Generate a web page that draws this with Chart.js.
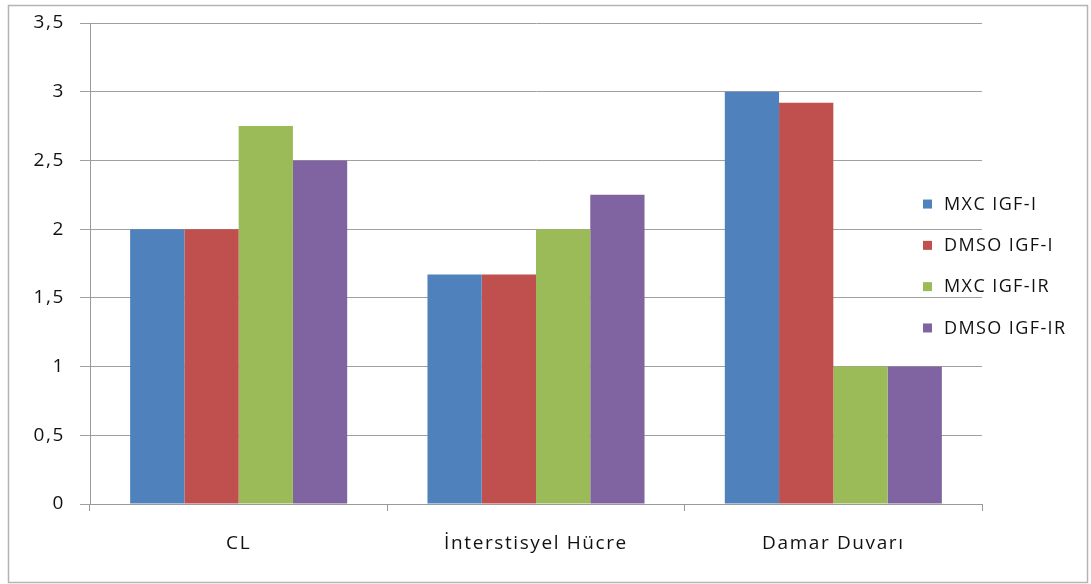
<!DOCTYPE html>
<html>
<head>
<meta charset="utf-8">
<script src="https://cdn.jsdelivr.net/npm/chart.js@4/dist/chart.umd.min.js"></script>
<style>
  html, body { margin: 0; padding: 0; background: #fff; }
  #wrap { width: 1091px; height: 584px; }
</style>
</head>
<body>
<div id="wrap"><canvas id="c" width="1091" height="584"></canvas></div>
<script>
// Categories and series
const categories = ['CL', 'İnterstisyel Hücre', 'Damar Duvarı'];
const seriesNames = ['MXC IGF-I', 'DMSO IGF-I', 'MXC IGF-IR', 'DMSO IGF-IR'];
const mxcIgf1 = [2, 1.67, 3];
const dmsoIgf1 = [2, 1.67, 2.92];
const mxcIgf1r = [2.75, 2, 1];
const dmsoIgf1r = [2.5, 2.25, 1];
const seriesColors = ['#4F81BD', '#C0504D', '#9BBB59', '#8064A2'];
const yTicks = [0, 0.5, 1, 1.5, 2, 2.5, 3, 3.5];

const FONT = '"Open Sans", "Noto Sans", sans-serif';
const FONT_SIZE = 19;
const LETTER_SPACING = '1.6px';
const TEXT_COLOR = '#111';
const seriesValues = [mxcIgf1, dmsoIgf1, mxcIgf1r, dmsoIgf1r];

// Slightly spaced-out lettering for all chart text
const spacing = {
  id: 'spacing',
  beforeLayout(chart) { chart.ctx.letterSpacing = LETTER_SPACING; },
  beforeDraw(chart) { chart.ctx.letterSpacing = LETTER_SPACING; }
};

// Outer frame around the whole chart
const framePlugin = {
  id: 'frame',
  beforeDraw(chart) {
    const ctx = chart.ctx;
    ctx.save();
    ctx.fillStyle = '#fff';
    ctx.fillRect(0, 0, chart.width, chart.height);
    ctx.strokeStyle = '#b4b4b4';
    ctx.lineWidth = 1.5;
    ctx.strokeRect(8.5, 5.5, 1079, 577);
    ctx.restore();
  }
};

// Legend on the right, drawn from the dataset labels and colours
const sideLegend = {
  id: 'sideLegend',
  afterDraw(chart) {
    const ctx = chart.ctx;
    const area = chart.chartArea;
    const rowGap = 41.3;
    const n = chart.data.datasets.length;
    const cy = (area.top + area.bottom) / 2 + 2;
    const y0 = cy - rowGap * (n - 1) / 2;
    ctx.save();
    ctx.letterSpacing = '1.4px';
    ctx.font = (FONT_SIZE - 1) + 'px ' + FONT;
    ctx.textBaseline = 'middle';
    ctx.textAlign = 'left';
    chart.data.datasets.forEach((ds, i) => {
      const y = y0 + i * rowGap;
      ctx.fillStyle = ds.backgroundColor;
      ctx.fillRect(923, y - 4, 9, 9);
      ctx.fillStyle = TEXT_COLOR;
      ctx.fillText(ds.label, 944, y + 1);
    });
    ctx.restore();
  }
};

new Chart(document.getElementById('c'), {
  type: 'bar',
  data: {
    labels: categories,
    datasets: seriesNames.map((name, i) => ({
      label: name,
      data: seriesValues[i],
      backgroundColor: seriesColors[i],
      borderWidth: 0,
      categoryPercentage: 0.73,
      barPercentage: 1.0
    }))
  },
  options: {
    responsive: false,
    animation: false,
    devicePixelRatio: 1,
    layout: { padding: { left: 0, top: 23, right: 109, bottom: 0 } },
    plugins: {
      legend: { display: false },
      tooltip: { enabled: false }
    },
    scales: {
      x: {
        offset: true,
        grid: {
          offset: true,
          drawOnChartArea: false,
          drawTicks: true,
          tickLength: 7,
          color: '#9a9a9a'
        },
        border: { display: true, color: '#9a9a9a', width: 1 },
        ticks: {
          color: TEXT_COLOR,
          font: { family: FONT, size: FONT_SIZE },
          padding: 21
        },
        afterFit(scale) {
          scale.height = 80;
          scale.paddingLeft = 0;
          scale.paddingRight = 0;
        }
      },
      y: {
        min: 0,
        max: 3.5,
        afterBuildTicks(scale) {
          scale.ticks = yTicks.map(v => ({ value: v }));
        },
        grid: {
          color: '#a0a0a0',
          lineWidth: 1,
          drawTicks: true,
          tickLength: 10
        },
        border: { display: true, color: '#9a9a9a', width: 1 },
        ticks: {
          color: TEXT_COLOR,
          font: { family: FONT, size: FONT_SIZE },
          padding: 15,
          callback: v => String(v).replace('.', ',')
        },
        afterFit(scale) {
          scale.width = 90;
          scale.paddingTop = 0;
          scale.paddingBottom = 0;
        }
      }
    }
  },
  plugins: [spacing, framePlugin, sideLegend]
});
</script>
</body>
</html>
